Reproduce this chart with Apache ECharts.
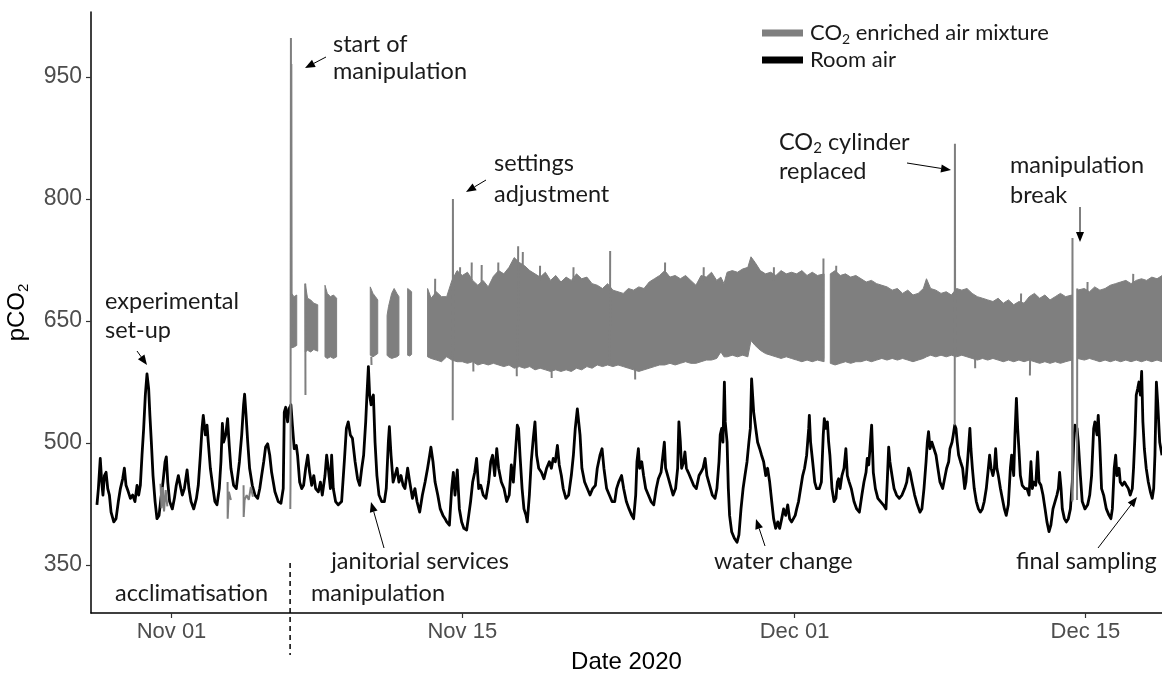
<!DOCTYPE html>
<html><head><meta charset="utf-8">
<script src="https://cdn.jsdelivr.net/npm/echarts@6/dist/echarts.min.js"></script>
<style>html,body{margin:0;padding:0;background:#fff}#c{width:1162px;height:673px}</style>
</head><body><div id="c"></div>
<script>
// x values are days since 2020-10-28 00:00
const xTickDays = [4, 18, 34, 48];
const xTickLabels = ['Nov 01', 'Nov 15', 'Dec 01', 'Dec 15'];
const yTicks = [350, 500, 650, 800, 950];
const manipulationStartDay = 9.71;

const roomAir = [
[0.41,424],[0.48,444],[0.57,481],[0.64,452],[0.70,436],[0.77,460],[0.85,464],[0.93,444],[1.01,436],[1.09,415],[1.22,403],[1.33,407],[1.44,428],[1.54,444],[1.65,456],[1.73,469],[1.81,448],[1.92,440],[2.02,432],[2.13,436],[2.24,428],[2.34,448],[2.42,436],[2.50,448],[2.58,485],[2.66,518],[2.74,559],[2.82,585],[2.90,567],[2.96,534],[3.03,501],[3.11,460],[3.21,428],[3.30,407],[3.40,411],[3.49,432],[3.59,452],[3.69,477],[3.75,483],[3.82,452],[3.91,428],[4.04,419],[4.14,432],[4.23,448],[4.33,460],[4.42,448],[4.52,436],[4.62,444],[4.75,467],[4.84,444],[4.94,428],[5.07,419],[5.20,432],[5.29,448],[5.39,485],[5.47,518],[5.53,534],[5.63,510],[5.71,522],[5.77,501],[5.87,469],[6.00,444],[6.09,428],[6.19,424],[6.30,444],[6.38,477],[6.45,524],[6.51,501],[6.61,510],[6.70,530],[6.78,497],[6.86,469],[6.99,448],[7.12,444],[7.27,477],[7.38,510],[7.47,547],[7.52,560],[7.59,534],[7.67,501],[7.76,469],[7.89,448],[8.02,436],[8.15,432],[8.25,444],[8.34,460],[8.44,477],[8.53,495],[8.63,499],[8.73,485],
[8.82,464],[8.98,440],[9.14,428],[9.27,426],[9.38,444],[9.43,538],[9.50,544],[9.59,526],[9.66,542],[9.75,547],[9.82,522],[9.91,493],[10.01,497],[10.07,485],[10.17,452],[10.27,444],[10.36,448],[10.46,469],[10.56,485],[10.65,464],[10.75,448],[10.85,460],[10.94,444],[11.07,440],[11.17,452],[11.26,436],[11.39,460],[11.47,485],[11.55,469],[11.65,444],[11.71,485],[11.79,444],[11.90,428],[12.03,424],[12.19,428],[12.32,477],[12.42,518],[12.51,526],[12.61,510],[12.71,506],[12.84,477],[12.96,456],[13.06,448],[13.16,469],[13.25,485],[13.35,526],[13.41,559],[13.48,594],[13.54,559],[13.61,547],[13.67,555],[13.72,559],[13.80,501],[13.89,460],[13.99,436],[14.12,428],[14.25,428],[14.34,444],[14.44,501],[14.49,520],[14.57,485],[14.67,452],[14.76,460],[14.86,469],[14.95,452],[15.05,460],[15.15,448],[15.24,444],[15.37,469],[15.47,452],[15.60,432],[15.72,444],[15.82,428],[15.95,415],[16.08,436],[16.21,452],[16.33,469],[16.43,485],[16.49,495],[16.59,477],[16.69,452],[16.82,436],[16.94,419],[17.07,411],[17.17,407],
[17.25,403],[17.38,399],[17.49,444],[17.57,464],[17.65,436],[17.76,467],[17.86,419],[17.97,403],[18.08,395],[18.21,393],[18.31,411],[18.40,428],[18.50,452],[18.60,464],[18.69,481],[18.79,444],[18.89,448],[19.01,436],[19.14,432],[19.27,452],[19.37,477],[19.46,485],[19.56,460],[19.66,493],[19.75,469],[19.88,452],[20.01,444],[20.14,428],[20.26,436],[20.36,473],[20.46,452],[20.55,485],[20.65,522],[20.71,518],[20.78,485],[20.88,444],[20.97,419],[21.07,411],[21.13,403],[21.23,436],[21.32,477],[21.42,506],[21.50,526],[21.58,485],[21.68,469],[21.81,464],[21.93,456],[22.06,469],[22.19,477],[22.29,469],[22.38,481],[22.48,477],[22.58,497],[22.67,473],[22.77,460],[22.86,444],[22.99,432],[23.12,436],[23.25,460],[23.35,485],[23.44,518],[23.54,542],[23.60,544],[23.67,510],[23.76,469],[23.89,452],[24.02,444],[24.15,436],[24.28,444],[24.41,448],[24.50,469],[24.63,485],[24.73,493],[24.82,469],[24.95,444],[25.08,436],[25.21,428],[25.34,428],[25.43,444],[25.53,452],
[25.67,460],[25.77,444],[25.90,428],[26.03,419],[26.16,411],[26.25,407],[26.35,436],[26.41,477],[26.48,493],[26.54,469],[26.64,477],[26.73,460],[26.83,444],[26.96,436],[27.09,428],[27.22,424],[27.34,444],[27.44,456],[27.57,464],[27.66,485],[27.73,501],[27.79,469],[27.89,460],[28.02,448],[28.15,436],[28.27,444],[28.37,469],[28.43,526],[28.50,501],[28.56,469],[28.66,477],[28.72,489],[28.79,469],[28.88,464],[29.01,456],[29.14,448],[29.27,444],[29.40,460],[29.49,464],[29.59,469],[29.69,481],[29.78,460],[29.91,448],[30.04,436],[30.17,432],[30.26,444],[30.36,477],[30.42,510],[30.49,518],[30.55,501],[30.62,575],[30.66,526],[30.75,501],[30.81,444],[30.87,411],[30.97,391],[31.10,383],[31.23,378],[31.32,387],[31.42,419],[31.52,444],[31.61,460],[31.71,477],[31.80,501],[31.87,518],[31.93,579],[32.03,538],[32.13,518],[32.22,501],[32.32,493],[32.41,485],[32.51,477],[32.61,460],[32.70,469],[32.80,452],[32.90,428],[32.99,407],[33.09,395],[33.19,403],[33.28,395],[33.38,407],[33.47,419],[33.57,411],[33.67,424],[33.76,407],[33.86,403],
[34.03,411],[34.10,419],[34.19,428],[34.29,444],[34.39,460],[34.48,469],[34.58,485],[34.68,518],[34.71,534],[34.77,501],[34.87,477],[34.97,452],[35.06,444],[35.19,444],[35.29,452],[35.38,510],[35.43,530],[35.51,518],[35.58,526],[35.64,501],[35.70,485],[35.80,444],[35.90,428],[35.99,432],[36.06,452],[36.12,456],[36.19,444],[36.28,460],[36.38,469],[36.47,493],[36.54,460],[36.63,452],[36.73,444],[36.86,428],[36.99,419],[37.12,415],[37.24,436],[37.34,452],[37.44,464],[37.50,481],[37.57,473],[37.63,493],[37.71,522],[37.79,464],[37.89,444],[38.01,432],[38.14,428],[38.27,424],[38.40,419],[38.46,452],[38.53,495],[38.59,477],[38.69,460],[38.79,444],[38.91,436],[39.04,432],[39.17,436],[39.30,444],[39.40,452],[39.49,469],[39.56,464],[39.65,452],[39.78,436],[39.91,424],[40.04,415],[40.13,419],[40.23,444],[40.33,477],[40.39,501],[40.45,514],[40.52,493],[40.61,501],[40.71,493],[40.81,485],[40.90,469],[41.00,452],[41.13,444],[41.22,444],[41.32,469],[41.42,477],[41.48,493],[41.58,501],[41.64,510],[41.71,522],[41.77,518],[41.83,501],[41.90,485],[41.99,477],[42.09,469],[42.19,444],[42.25,452],[42.35,485],[42.44,518],
[42.49,493],[42.56,469],[42.65,444],[42.75,428],[42.85,419],[42.94,415],[43.04,419],[43.13,428],[43.23,444],[43.33,469],[43.39,485],[43.46,469],[43.55,460],[43.62,469],[43.68,493],[43.74,469],[43.81,460],[43.91,444],[44.00,432],[44.10,419],[44.19,411],[44.29,424],[44.39,469],[44.45,485],[44.55,460],[44.61,510],[44.68,555],[44.74,518],[44.80,493],[44.87,460],[44.96,448],[45.09,444],[45.19,444],[45.29,436],[45.38,477],[45.45,444],[45.51,452],[45.61,448],[45.70,489],[45.77,452],[45.86,448],[45.96,436],[46.06,419],[46.15,403],[46.25,391],[46.34,399],[46.44,419],[46.54,428],[46.63,436],[46.70,444],[46.76,464],[46.83,444],[46.89,419],[46.99,407],[47.08,403],[47.18,407],[47.28,419],[47.37,452],[47.44,501],[47.50,522],[47.60,518],[47.66,501],[47.76,460],[47.85,428],[47.98,419],[48.11,424],[48.21,436],[48.30,460],[48.40,518],[48.46,526],[48.56,510],[48.62,534],[48.69,501],[48.78,444],[48.88,436],[49.01,419],[49.14,411],[49.23,407],[49.30,419],[49.39,469],[49.46,485],[49.52,460],[49.62,469],[49.68,452],[49.78,448],[49.88,452],[49.97,448],[50.07,444],[50.16,436],[50.26,444],[50.32,469],[50.39,510],[50.45,559],[50.52,567],[50.58,575],[50.65,559],[50.71,588],[50.77,526],[50.84,493],[50.93,469],[51.03,452],[51.13,440],[51.22,432],[51.29,444],[51.35,485],[51.42,575],[51.48,551],[51.58,501],[51.69,485]
];

// [day, low, high] envelope of the enriched-air oscillation; null = gap
const enrichedBand = [
[9.78,617,684],[9.90,618,680],[10.03,620,682], null,
[10.44,612,696],[10.55,614,678],[10.70,612,676],[10.85,615,672],[11.04,613,670], null,
[11.39,606,694],[11.50,604,684],[11.65,606,680],[11.80,604,682],[11.95,606,678], null,
[13.57,608,692],[13.70,606,684],[13.82,608,680],[13.93,610,676], null,
[14.38,608,657],[14.45,606,668],[14.60,604,684],[14.72,605,690],[14.85,606,684],[14.95,608,680], null,
[15.37,608,690],[15.47,607,688],[15.56,609,686], null,
[16.33,606,690],[16.50,604,678],[16.75,602,686],[17.00,600,680],[17.25,606,680],[17.50,602,700],[17.75,600,712],[18.00,600,706],[18.25,598,710],[18.50,600,700],[18.75,596,694],[19.00,598,700],[19.25,596,692],[19.50,598,705],[19.75,596,712],[20.00,594,708],[20.25,596,716],[20.50,592,728],[20.75,594,722],[21.00,592,718],[21.25,594,712],[21.50,590,708],[21.75,592,704],[22.00,590,710],[22.25,588,700],[22.50,590,706],[22.75,588,698],[23.00,590,704],[23.25,588,700],[23.50,592,708],[23.75,590,702],[24.00,594,704],[24.25,592,696],[24.50,596,694],[24.75,594,690],[25.00,596,696],[25.25,594,688],[25.50,596,686],[25.75,594,684],[26.00,592,690],[26.25,590,688],[26.50,588,692],[26.75,590,690],[27.00,592,698],[27.25,594,702],[27.50,596,706],[27.75,596,712],[28.00,598,704],[28.25,596,706],[28.50,598,702],[28.75,600,706],[29.00,598,700],[29.25,598,694],[29.50,600,706],[29.75,602,704],[30.00,602,710],[30.25,604,700],[30.45,612,704],[30.60,606,696],[30.75,606,710],[31.00,608,712],[31.25,606,710],[31.50,608,714],[31.75,606,716],[31.90,626,729],[32.10,620,722],[32.35,614,712],[32.60,610,708],[32.85,608,710],[33.10,606,706],[33.35,604,712],[33.60,606,708],[33.85,604,710],[34.10,602,708],[34.35,600,712],[34.60,602,706],[34.85,600,710],[35.10,602,706],[35.42,600,708], null,
[35.72,598,708],[35.95,596,712],[36.20,598,706],[36.45,600,708],[36.70,598,704],[36.95,600,706],[37.20,600,702],[37.45,602,698],[37.70,600,700],[37.95,602,696],[38.20,604,694],[38.45,602,692],[38.70,604,688],[38.95,602,690],[39.20,604,684],[39.45,602,688],[39.70,600,682],[39.95,602,684],[40.20,604,690],[40.35,606,702],[40.55,608,690],[40.80,606,688],[41.05,608,684],[41.30,606,686],[41.55,608,682],[41.80,606,690],[42.05,608,688],[42.30,606,690],[42.55,604,684],[42.80,602,680],[43.05,604,678],[43.30,602,676],[43.55,604,674],[43.80,602,678],[44.05,600,672],[44.30,602,676],[44.55,600,670],[44.80,602,674],[45.05,600,672],[45.30,602,680],[45.55,600,684],[45.80,598,678],[46.05,600,682],[46.30,598,676],[46.55,600,680],[46.80,598,684],[47.05,600,680],[47.35,602,682], null,
[47.62,604,688],[47.95,602,690],[48.20,604,686],[48.45,602,692],[48.70,600,688],[48.95,602,690],[49.20,600,694],[49.45,602,696],[49.70,600,698],[49.95,602,700],[50.20,600,696],[50.45,602,700],[50.70,600,702],[50.95,602,700],[51.20,600,704],[51.45,602,702],[51.70,600,706]
];

// single enriched-air readings outside the band (spikes, room-level readings); null = break
const enrichedLines = [
[3.47,450],[3.52,420],[3.58,446],[3.64,416],[3.72,442],[3.80,422], null,
[6.70,452],[6.705,407],[6.76,440],[6.86,430], null,
[7.47,448],[7.475,409],[7.52,430],[7.62,436],[7.72,430],[7.82,446],[7.92,434], null,
[9.72,419],[9.73,450],[9.75,998],[9.76,620],[9.77,966],[9.785,630], null,
[10.44,696],[10.45,559], null,
[13.62,606],[13.63,596], null,
[16.69,680],[16.695,702], null,
[17.54,528],[17.55,800],[17.56,610], null,
[17.89,700],[17.895,716], null,
[18.45,700],[18.455,722], null,
[18.53,600],[18.535,588], null,
[18.93,695],[18.935,719], null,
[19.73,700],[19.735,722], null,
[20.62,594],[20.625,582], null,
[20.68,600],[20.69,742], null,
[20.91,715],[20.915,735], null,
[21.74,700],[21.745,718], null,
[22.30,590],[22.305,580], null,
[23.35,698],[23.355,716], null,
[25.11,600],[25.12,736], null,
[26.32,592],[26.325,578], null,
[27.76,705],[27.765,722], null,
[29.62,700],[29.625,716], null,
[33.00,700],[33.005,716], null,
[35.38,604],[35.39,727], null,
[36.00,705],[36.005,718], null,
[41.71,522],[41.72,868],[41.73,610], null,
[42.69,606],[42.695,592], null,
[44.90,668],[44.905,684], null,
[45.33,583],[45.34,604], null,
[47.36,602],[47.37,428],[47.38,752],[47.39,430], null,
[47.60,430],[47.61,690], null,
[48.10,684],[48.105,698], null,
[50.30,692],[50.305,708]
];

const seriesNames = ['CO2 enriched air mixture', 'Room air'];

// ---- build ----
const segs = [];
let cur = [];
segs.push(cur);
enrichedBand.forEach(p => { if (p === null) { cur = []; segs.push(cur); } else cur.push(p); });
const segItems = segs.map((s, k) => [s[0][0], s[s.length - 1][0],
  Math.min.apply(null, s.map(p => p[1])), Math.max.apply(null, s.map(p => p[2])), k]);
const lineData = [];
let lastX = 0;
enrichedLines.forEach(p => { if (p === null) { lineData.push([lastX, '-']); return; } lastX = p[0]; lineData.push(p); });

const GRAY = '#7f7f7f';
const FONT = 'Lato';
const AFS = 23.5;
const chart = echarts.init(document.getElementById('c'), null, {renderer: 'canvas'});

const subRich = {
  t: {fontFamily: FONT, fontSize: AFS, color: '#1a1a1a', lineHeight: 27},
  s: {fontFamily: FONT, fontSize: 15, color: '#1a1a1a', verticalAlign: 'bottom', lineHeight: 15}
};
const legRich = {
  t: {fontFamily: FONT, fontSize: 22, color: '#1a1a1a', lineHeight: 26},
  s: {fontFamily: FONT, fontSize: 14, color: '#1a1a1a', verticalAlign: 'bottom', lineHeight: 14}
};

chart.setOption({
  animation: false,
  backgroundColor: '#fff',
  grid: {left: 91, right: 0, top: 12, bottom: 60, containLabel: false, outerBoundsMode: 'none'},
  legend: {
    orient: 'vertical', left: 757, top: 17, itemGap: 3, itemWidth: 41, itemHeight: 7,
    icon: 'rect',
    data: seriesNames,
    formatter: n => n === seriesNames[0] ? '{t|CO}{s|2}{t| enriched air mixture}' : '{t|' + n + '}',
    textStyle: {fontFamily: FONT, fontSize: 22, color: '#1a1a1a', rich: legRich, padding: [0, 0, 0, 2]}
  },
  xAxis: {
    type: 'value', min: 0.124, max: 51.69,
    axisLine: {lineStyle: {color: '#000', width: 1.5}},
    axisTick: {show: true, length: 5, customValues: xTickDays, lineStyle: {color: '#333', width: 1.2}},
    axisLabel: {customValues: xTickDays, formatter: v => xTickLabels[xTickDays.indexOf(Math.round(v))] || '',
      fontFamily: 'Liberation Sans', fontSize: 22, color: '#4d4d4d', margin: 8},
    splitLine: {show: false},
    name: 'Date 2020', nameLocation: 'middle', nameGap: 37,
    nameTextStyle: {fontFamily: 'Liberation Sans', fontSize: 24, color: '#000'}
  },
  yAxis: {
    type: 'value', min: 291, max: 1030,
    axisLine: {show: true, lineStyle: {color: '#000', width: 1.5}},
    axisTick: {show: true, length: 5, customValues: yTicks, lineStyle: {color: '#333', width: 1.2}},
    axisLabel: {customValues: yTicks, fontFamily: 'Liberation Sans', fontSize: 23, color: '#4d4d4d', margin: 9},
    splitLine: {show: false},
    name: '{t|pCO}{s|2}', nameLocation: 'middle', nameGap: 60, nameRotate: 90,
    nameTextStyle: {rich: {
      t: {fontFamily: 'Liberation Sans', fontSize: 24, color: '#000', lineHeight: 28},
      s: {fontFamily: 'Liberation Sans', fontSize: 15, color: '#000', verticalAlign: 'bottom', lineHeight: 15}
    }}
  },
  series: [
    {
      name: seriesNames[1], type: 'line', data: roomAir, showSymbol: false, symbol: 'none',
      lineStyle: {color: '#000', width: 2.8, join: 'round'}, itemStyle: {color: '#000'}, z: 2, silent: true
    },
    {
      name: seriesNames[0], type: 'custom', data: segItems, z: 3, silent: true,
      itemStyle: {color: GRAY},
      encode: {x: [0, 1], y: [2, 3]},
      renderItem: function (params, api) {
        const s = segs[params.dataIndex];
        const top = s.map(p => api.coord([p[0], p[2]]));
        const bot = s.slice().reverse().map(p => api.coord([p[0], p[1]]));
        return {type: 'polygon', shape: {points: top.concat(bot)}, style: {fill: GRAY, stroke: GRAY, lineWidth: 1}};
      }
    },
    {
      name: seriesNames[0], type: 'line', data: lineData, showSymbol: false, symbol: 'none', connectNulls: false,
      lineStyle: {color: GRAY, width: 2}, itemStyle: {color: GRAY}, z: 4, silent: true
    }
  ]
});

// ---- annotations ----
function txt(text, x, y, align) {
  return {type: 'text', x: x, y: y, z: 100, style: {text: text, rich: subRich, fontFamily: FONT, fontSize: AFS, fill: '#1a1a1a', align: align || 'left', verticalAlign: 'middle'}};
}
function arrow(x1, y1, x2, y2) {
  const dx = x2 - x1, dy = y2 - y1, L = Math.hypot(dx, dy), ux = dx / L, uy = dy / L, h = 10, w = 4;
  const bx = x2 - ux * h, by = y2 - uy * h;
  return [
    {type: 'line', z: 100, shape: {x1: x1, y1: y1, x2: bx, y2: by}, style: {stroke: '#000', lineWidth: 1}},
    {type: 'polygon', z: 100, shape: {points: [[x2, y2], [bx - uy * w, by + ux * w], [bx + uy * w, by - ux * w]]}, style: {fill: '#000'}}
  ];
}
const dashX = chart.convertToPixel({xAxisIndex: 0}, manipulationStartDay);
const g = [
  txt('start of', 333, 44), txt('manipulation', 333, 71), ...arrow(326, 57, 305, 68),
  txt('settings', 494, 163), txt('adjustment', 494, 194), ...arrow(486, 180, 466, 192),
  txt('{t|CO}{s|2}{t| cylinder}', 779, 142), txt('replaced', 779, 171), ...arrow(907, 163, 951, 170),
  txt('manipulation', 1010, 165), txt('break', 1010, 195), ...arrow(1080, 207, 1080, 242),
  txt('experimental', 105, 301), txt('set-up', 105, 330), ...arrow(137, 351, 147, 365),
  txt('janitorial services', 420, 561, 'center'), ...arrow(384, 548, 371, 502),
  txt('water change', 714, 561), ...arrow(765, 546, 756, 519),
  txt('final sampling', 1016, 561), ...arrow(1098, 548, 1137, 497),
  txt('acclimatisation', 115, 593), txt('manipulation', 311, 593),
  {type: 'line', z: 100, shape: {x1: dashX, y1: 563, x2: dashX, y2: 655}, style: {stroke: '#000', lineWidth: 1.5, lineDash: [5, 4]}}
];
chart.setOption({graphic: g});
</script></body></html>
